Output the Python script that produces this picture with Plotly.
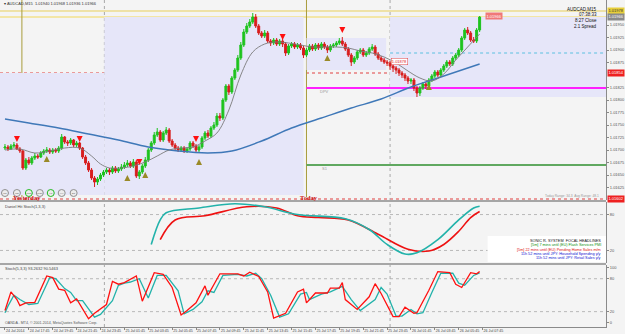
import plotly.graph_objects as go

FONT = "Liberation Sans"
PW, PH = 609, 334  # plot area px (right margin holds price labels)

# ---------------- price data (AUDCAD, M15) ----------------
first_open = 1.01704
closes = [
 1.01706, 1.01702, 1.01708, 1.01710, 1.01702, 1.01698, 1.01664, 1.01680, 1.01674, 1.01684,
 1.01688, 1.01686, 1.01694, 1.01698, 1.01700, 1.01696, 1.01700, 1.01698, 1.01704, 1.01726,
 1.01716, 1.01714, 1.01720, 1.01710, 1.01714, 1.01704, 1.01686, 1.01674, 1.01660, 1.01644,
 1.01636, 1.01642, 1.01650, 1.01656, 1.01660, 1.01656, 1.01664, 1.01658, 1.01662, 1.01666,
 1.01670, 1.01674, 1.01668, 1.01676, 1.01648, 1.01656, 1.01668, 1.01680, 1.01700, 1.01714,
 1.01730, 1.01736, 1.01720, 1.01734, 1.01740, 1.01718, 1.01710, 1.01704, 1.01700, 1.01704,
 1.01698, 1.01702, 1.01714, 1.01708, 1.01700, 1.01706, 1.01724, 1.01734, 1.01728, 1.01744,
 1.01750, 1.01768, 1.01764, 1.01800, 1.01828, 1.01816, 1.01844, 1.01860, 1.01884, 1.01910,
 1.01936, 1.01948, 1.01956, 1.01966, 1.01948, 1.01934, 1.01928, 1.01934, 1.01918, 1.01914,
 1.01920, 1.01912, 1.01918, 1.01912, 1.01894, 1.01908, 1.01912, 1.01906, 1.01910, 1.01904,
 1.01890, 1.01900, 1.01908, 1.01902, 1.01910, 1.01904, 1.01912, 1.01906, 1.01900, 1.01908,
 1.01910, 1.01914, 1.01918, 1.01912, 1.01902, 1.01890, 1.01876, 1.01884, 1.01896, 1.01900,
 1.01890, 1.01894, 1.01902, 1.01906, 1.01892, 1.01884, 1.01880, 1.01876, 1.01874, 1.01868,
 1.01864, 1.01860, 1.01854, 1.01850, 1.01844, 1.01838, 1.01840, 1.01824, 1.01814, 1.01824,
 1.01832, 1.01828, 1.01840, 1.01848, 1.01856, 1.01850, 1.01860, 1.01868, 1.01876, 1.01872,
 1.01884, 1.01890, 1.01900, 1.01924, 1.01940, 1.01934, 1.01920, 1.01918, 1.01940, 1.01966]
highs = [
 1.01712, 1.01710, 1.01712, 1.01716, 1.01714, 1.01706, 1.01700, 1.01684, 1.01686, 1.01688,
 1.01694, 1.01692, 1.01698, 1.01702, 1.01706, 1.01704, 1.01704, 1.01704, 1.01708, 1.01732,
 1.01728, 1.01720, 1.01724, 1.01722, 1.01718, 1.01716, 1.01706, 1.01690, 1.01678, 1.01664,
 1.01648, 1.01646, 1.01654, 1.01660, 1.01664, 1.01664, 1.01668, 1.01668, 1.01666, 1.01672,
 1.01676, 1.01680, 1.01678, 1.01682, 1.01680, 1.01660, 1.01672, 1.01686, 1.01704, 1.01718,
 1.01736, 1.01744, 1.01740, 1.01738, 1.01746, 1.01744, 1.01722, 1.01714, 1.01708, 1.01708,
 1.01708, 1.01706, 1.01718, 1.01718, 1.01712, 1.01710, 1.01728, 1.01738, 1.01740, 1.01748,
 1.01756, 1.01774, 1.01774, 1.01804, 1.01832, 1.01832, 1.01848, 1.01864, 1.01890, 1.01916,
 1.01942, 1.01954, 1.01962, 1.01974, 1.01972, 1.01952, 1.01938, 1.01940, 1.01938, 1.01922,
 1.01924, 1.01924, 1.01922, 1.01922, 1.01916, 1.01912, 1.01916, 1.01916, 1.01914, 1.01914,
 1.01908, 1.01904, 1.01912, 1.01912, 1.01914, 1.01914, 1.01916, 1.01916, 1.01910, 1.01912,
 1.01914, 1.01918, 1.01924, 1.01926, 1.01916, 1.01906, 1.01894, 1.01888, 1.01900, 1.01904,
 1.01904, 1.01898, 1.01906, 1.01912, 1.01910, 1.01896, 1.01888, 1.01884, 1.01880, 1.01878,
 1.01872, 1.01868, 1.01864, 1.01858, 1.01854, 1.01848, 1.01844, 1.01844, 1.01828, 1.01828,
 1.01836, 1.01836, 1.01844, 1.01852, 1.01860, 1.01860, 1.01864, 1.01872, 1.01880, 1.01880,
 1.01888, 1.01894, 1.01904, 1.01928, 1.01944, 1.01946, 1.01938, 1.01926, 1.01944, 1.01968]
lows = [
 1.01700, 1.01698, 1.01700, 1.01704, 1.01700, 1.01694, 1.01660, 1.01660, 1.01670, 1.01670,
 1.01680, 1.01682, 1.01684, 1.01690, 1.01694, 1.01692, 1.01692, 1.01694, 1.01694, 1.01700,
 1.01712, 1.01708, 1.01710, 1.01706, 1.01706, 1.01700, 1.01682, 1.01670, 1.01656, 1.01640,
 1.01626, 1.01630, 1.01638, 1.01646, 1.01652, 1.01650, 1.01652, 1.01654, 1.01654, 1.01658,
 1.01662, 1.01666, 1.01664, 1.01664, 1.01644, 1.01642, 1.01652, 1.01664, 1.01676, 1.01696,
 1.01710, 1.01726, 1.01716, 1.01716, 1.01730, 1.01714, 1.01706, 1.01700, 1.01696, 1.01696,
 1.01694, 1.01694, 1.01698, 1.01704, 1.01696, 1.01696, 1.01702, 1.01720, 1.01724, 1.01724,
 1.01740, 1.01746, 1.01758, 1.01760, 1.01796, 1.01810, 1.01812, 1.01840, 1.01856, 1.01880,
 1.01906, 1.01932, 1.01944, 1.01952, 1.01944, 1.01930, 1.01924, 1.01924, 1.01914, 1.01908,
 1.01910, 1.01908, 1.01908, 1.01906, 1.01888, 1.01890, 1.01904, 1.01902, 1.01902, 1.01900,
 1.01884, 1.01886, 1.01896, 1.01898, 1.01898, 1.01900, 1.01900, 1.01902, 1.01894, 1.01896,
 1.01904, 1.01906, 1.01910, 1.01908, 1.01898, 1.01886, 1.01868, 1.01872, 1.01880, 1.01892,
 1.01886, 1.01886, 1.01890, 1.01898, 1.01888, 1.01880, 1.01876, 1.01872, 1.01868, 1.01860,
 1.01856, 1.01852, 1.01848, 1.01844, 1.01838, 1.01832, 1.01832, 1.01818, 1.01806, 1.01808,
 1.01820, 1.01822, 1.01824, 1.01836, 1.01844, 1.01846, 1.01846, 1.01856, 1.01864, 1.01868,
 1.01868, 1.01880, 1.01886, 1.01896, 1.01920, 1.01930, 1.01916, 1.01914, 1.01914, 1.01936]
opens = [first_open] + closes[:-1]
bars = list(range(len(closes)))

# moving averages (read at sampled bars)
ma_fast_bars = [0, 5, 10, 15, 20, 25, 29, 32, 35, 39, 43, 47, 51, 55, 59, 63, 67, 71, 75, 79,
                83, 87, 91, 95, 99, 103, 107, 111, 115, 119, 123, 127, 131, 135, 139, 143, 147, 151, 155, 159]
ma_fast = [1.01700, 1.01702, 1.01694, 1.01698, 1.01704, 1.01704, 1.01688, 1.01672, 1.01664, 1.01664,
           1.01668, 1.01676, 1.01688, 1.01700, 1.01704, 1.01706, 1.01718, 1.01734, 1.01780, 1.01850,
           1.01896, 1.01912, 1.01916, 1.01914, 1.01910, 1.01906, 1.01906, 1.01906, 1.01904, 1.01898,
           1.01894, 1.01886, 1.01874, 1.01858, 1.01844, 1.01838, 1.01852, 1.01880, 1.01906, 1.01932]
ma_slow_bars = [0, 8, 18, 28, 38, 48, 58, 68, 76, 86, 96, 106, 116, 126, 136, 146, 159]
ma_slow = [1.01762, 1.01754, 1.01744, 1.01732, 1.01720, 1.01706, 1.01698, 1.01694, 1.01698,
           1.01718, 1.01744, 1.01764, 1.01784, 1.01802, 1.01826, 1.01846, 1.01872]

# fractal arrows
fr_down_bars = [4, 25, 45, 64, 93, 113]
fr_down = [1.01716, 1.01716, 1.01670, 1.01716, 1.01920, 1.01934]
fr_up_bars = [14, 41, 47, 65, 108, 142]
fr_up = [1.01688, 1.01650, 1.01656, 1.01682, 1.01890, 1.01832]

# range boxes (previous sessions) and levels
box_start = [-1.7, 33.3, 101.0, 129.0]
box_end = [33.3, 100.0, 127.7, 201.4]
box_high = [1.01854, 1.01966, 1.01924, 1.01966]
box_low = [1.01610, 1.01610, 1.01860, 1.01806]
level_high = 1.01978
level_red = 1.01854
level_cyan = 1.01894
level_pivot = 1.01824
level_s1 = 1.01670
level_bottom = 1.01602
session_bars = [5.67, 101.0]
day_bars = [33.3, 129.0]

# Daniel Hit Stoch (1,3,3)
osc_teal_bars = [49, 52, 54, 65, 77, 87, 98, 114, 122, 128, 134, 138, 145, 152, 157, 159]
osc_teal = [30, 71, 83, 91, 98, 93, 80, 73, 55, 30, 14, 16, 38, 71, 91, 94]
osc_red_bars = [52, 57, 67, 81, 91, 98, 105, 115, 125, 135, 142, 147, 152, 156, 159]
osc_red = [38, 71, 78, 93, 91, 78, 75, 71, 47, 22, 19, 30, 52, 75, 85]

# Stoch (5,3,3)
st_main_bars = [0, 2, 4, 5, 7, 10, 14, 16, 18, 20, 22, 24, 28, 30, 34, 36, 38, 40, 44, 46,
                50, 53, 56, 59, 61, 64, 67, 68, 72, 78, 80, 82, 85, 88, 90, 94, 98, 100, 101, 104,
                108, 109, 112, 113, 114, 117, 118, 122, 124, 126, 130, 132, 134, 137, 138, 142, 145, 149, 151, 153,
                156, 158, 159]
st_main = [22, 56, 42, 31, 36, 37, 85, 82, 61, 59, 36, 43, 7, 17, 33, 75, 70, 73, 85, 39,
           91, 88, 64, 14, 22, 36, 67, 50, 89, 89, 85, 92, 84, 56, 8, 17, 56, 61, 36, 54,
           54, 63, 63, 73, 42, 28, 24, 47, 71, 53, 11, 11, 28, 17, 18, 59, 93, 91, 70, 64,
           91, 89, 93.26]
st_sig_bars = [0, 1, 3, 5, 8, 11, 15, 17, 20, 22, 24, 26, 30, 32, 36, 38, 40, 42, 45, 48,
               51, 54, 58, 60, 63, 66, 68, 70, 73, 78, 81, 84, 86, 89, 92, 95, 99, 101, 102, 106,
               109, 113, 116, 119, 124, 126, 128, 131, 133, 136, 138, 140, 143, 146, 150, 152, 154, 157, 159]
st_sig = [18, 30, 50, 42, 33, 35, 82, 80, 62, 55, 40, 40, 10, 15, 40, 68, 72, 74, 80, 45,
          86, 86, 58, 16, 24, 38, 58, 55, 86, 88, 85, 90, 80, 50, 10, 16, 52, 55, 42, 52,
          56, 66, 42, 22, 42, 64, 52, 12, 12, 24, 16, 18, 55, 90, 90, 72, 68, 86, 90.55]

time_labels = ["24 Jul 2014", "24 Jul 17:45", "24 Jul 19:45", "24 Jul 21:45", "24 Jul 23:45",
               "25 Jul 01:45", "25 Jul 03:45", "25 Jul 05:45", "25 Jul 07:45", "25 Jul 09:45",
               "25 Jul 11:45", "25 Jul 13:45", "25 Jul 15:45", "25 Jul 17:45", "25 Jul 19:45",
               "25 Jul 21:45", "25 Jul 23:45", "26 Jul 01:45", "26 Jul 03:45", "26 Jul 05:45",
               "26 Jul 07:45"]
time_ticks = [8 * k for k in range(len(time_labels))]

tf_buttons = ["M1", "M5", "M15", "M30", "H1", "H4", "D1"]
headlines = [("SONIC R. SYSTEM  FOCAL HEADLINES", "#111111"),
             ("[5m] 7 mins until (EU) Flash Services PMI", "#109010"),
             ("[5m] 22 mins until (EU) Pending Home Sales m/m", "#e01010"),
             ("11h 52 mins until JPY: Household Spending y/y", "#1010d0"),
             ("11h 52 mins until JPY: Retail Sales y/y", "#1010d0")]

# ---------------- helpers (layout positions in px) ----------------
def px(x):
    return x / PW

def py(y):
    return 1 - y / PH

dom_main = [py(200), 1.0]
dom_p2 = [py(263), py(202)]
dom_p3 = [py(327), py(265)]

GREEN = "#1ec31e"
RED = "#d81e1e"

fig = go.Figure()
fig.add_trace(go.Candlestick(
    x=bars, open=opens, high=highs, low=lows, close=closes,
    increasing=dict(line=dict(color=GREEN, width=1), fillcolor=GREEN),
    decreasing=dict(line=dict(color=RED, width=1), fillcolor=RED),
    whiskerwidth=0, hoverinfo="skip", xaxis="x", yaxis="y"))
fig.add_trace(go.Scatter(x=ma_slow_bars, y=ma_slow, mode="lines",
                         line=dict(color="#3f78b8", width=1.4, shape="spline"), yaxis="y"))
fig.add_trace(go.Scatter(x=ma_fast_bars, y=ma_fast, mode="lines",
                         line=dict(color="#7a7a7a", width=0.9, shape="spline"), yaxis="y"))
fig.add_trace(go.Scatter(x=fr_down_bars, y=fr_down, mode="markers", yaxis="y",
                         marker=dict(symbol="arrow-down", size=6, color="#ff1010"), cliponaxis=False))
fig.add_trace(go.Scatter(x=fr_up_bars, y=fr_up, mode="markers", yaxis="y",
                         marker=dict(symbol="arrow-up", size=6, color="#9a8a28"), cliponaxis=False))

# timeframe buttons
btn_x = [(xp - 5) / 3 for xp in [5, 17, 29, 40, 51, 62, 74]]
btn_line = ["#909090", "#909090", "#22bb22", "#909090", "#22bb22", "#909090", "#909090"]
fig.add_trace(go.Scatter(x=btn_x, y=[1.02 - 193 * 0.00002] * len(btn_x), mode="markers+text",
                         text=tf_buttons, textfont=dict(size=2.5, color="#555", family=FONT),
                         marker=dict(size=7, color="#ececec", line=dict(color=btn_line, width=1)),
                         yaxis="y", cliponaxis=False))

# oscillator panels
fig.add_trace(go.Scatter(x=osc_red_bars, y=osc_red, mode="lines", yaxis="y2",
                         line=dict(color="#ee1111", width=1.6, shape="spline")))
fig.add_trace(go.Scatter(x=osc_teal_bars, y=osc_teal, mode="lines", yaxis="y2",
                         line=dict(color="#22b2aa", width=1.6, shape="spline")))
fig.add_trace(go.Scatter(x=st_sig_bars, y=st_sig, mode="lines", yaxis="y3",
                         line=dict(color="#22b2aa", width=1.3)))
fig.add_trace(go.Scatter(x=st_main_bars, y=st_main, mode="lines", yaxis="y3",
                         line=dict(color="#ff1010", width=1.3)))

shapes = []
for x0, x1, hi, lo in zip(box_start, box_end, box_high, box_low):
    shapes.append(dict(type="rect", xref="x", yref="y", x0=x0, x1=x1, y0=lo, y1=hi,
                       fillcolor="#e6e6f9", line=dict(width=0), layer="below"))

def hline(y, color, width=1, dash="solid", x0=None, yref="y"):
    if x0 is None:
        shapes.append(dict(type="line", xref="paper", yref=yref, x0=0, x1=1, y0=y, y1=y,
                           line=dict(color=color, width=width, dash=dash), layer="below"))
    else:
        shapes.append(dict(type="line", xref="x", yref=yref, x0=x0, x1=201.4, y0=y, y1=y,
                           line=dict(color=color, width=width, dash=dash), layer="below"))

hline(level_high, "#e8cf5a", 1)
hline(closes[-1], "#f3e6a6", 2)
hline(level_red, "#e04040", 1, "dot")
hline(level_cyan, "#5ac0e0", 1, "dot", x0=day_bars[1])
hline(level_pivot, "#ff20ff", 2, x0=session_bars[1])
hline(level_s1, "#60a860", 2, x0=session_bars[1])
hline(level_bottom, "#e04040", 1, "dot")
for lv in (80, 20):
    hline(lv, "#b8b8b8", 1, "dot", yref="y2")
    hline(lv, "#b8b8b8", 1, "dot", yref="y3")

for b in session_bars:
    shapes.append(dict(type="line", xref="x", yref="paper", x0=b, x1=b, y0=py(197), y1=1,
                       line=dict(color="#a89c3c", width=1), layer="below"))
for b in day_bars:
    shapes.append(dict(type="line", xref="x", yref="paper", x0=b, x1=b, y0=py(327), y1=1,
                       line=dict(color="#a8a8a8", width=1, dash="dot"), layer="below"))

# panel separators
for ys in (201, 264):
    shapes.append(dict(type="line", xref="paper", yref="paper", x0=0, x1=1, y0=py(ys), y1=py(ys),
                       line=dict(color="#a6a6a6", width=2), layer="above"))
# headline box
shapes.append(dict(type="rect", xref="paper", yref="paper", x0=px(490), x1=1, y0=py(262), y1=py(236),
                   fillcolor="#ffffff", line=dict(width=0), layer="above"))

ann = []
def note(text, x, y, anchor="left", size=4, color="#333333", **kw):
    d = dict(text=text, xref="paper", yref="paper", x=px(x), y=py(y), xanchor=anchor,
             yanchor="middle", showarrow=False, font=dict(family=FONT, size=size, color=color))
    d.update(kw)
    ann.append(d)

note("\u25be AUDCAD,M15  1.01940 1.01968 1.01936 1.01966", 2, 4, size=4)
note("AUDCAD,M15", 602, 9, "right", 4.5, "#111")
note("07:38:33", 602, 15, "right", 4.5, "#111")
note("8:27 Close", 602, 20.5, "right", 4.5, "#111")
note("2.1 Spread", 602, 26, "right", 4.5, "#111")
note("1.01966", 487, 16, size=4, color="#ffffff", bgcolor="#f07878", borderpad=0.5)
note("1.01878", 393, 61, size=4, color="#e02020", bgcolor="#ffffff", bordercolor="#e04040",
     borderwidth=0.5, borderpad=0.3)
note("DPV", 320, 91, size=4, color="#9a9a9a")
note("S1", 322, 168, size=4, color="#9a9a9a")
note("<b>Yesterday</b>", 11, 197, size=6.5, color="#cc1010", font_family="Liberation Serif")
note("<b>Today</b>", 299, 197, size=6.5, color="#cc1010", font_family="Liberation Serif")
note("Today Range: 34.3  Avg Range: 48.1", 604, 196.5, "right", 3.3, "#9a9a9a")
note("Daniel Hit Stoch(1,3,3)", 3, 206, size=4, color="#444")
note("Stoch(5,3,3) 93.2632 90.5463", 3, 268.5, size=4, color="#444")
note("OANDA - MT4, \u00a9 2001-2014, MetaQuotes Software Corp.", 3, 323, size=3.6, color="#555")
for k, (t, c) in enumerate(headlines):
    note(t, 606, 241 + 4.3 * k, "right", 3.8, c)

# right-axis price boxes
def axis_box(price, bg, fg="#ffffff"):
    ann.append(dict(text=f"{price:.5f}", xref="paper", yref="y", x=1, y=price, xanchor="left",
                    yanchor="middle", xshift=1, showarrow=False, bgcolor=bg, borderpad=0.4,
                    font=dict(family=FONT, size=4, color=fg)))

axis_box(level_high, "#e8cf3a", "#333")
axis_box(closes[-1], "#8a8a8a")
axis_box(level_red, "#ee2020")
axis_box(level_bottom, "#ee2020")

# price ticks every 0.00025 (the one hidden under the red level box is left out)
main_ticks = [round(1.01625 + 0.00025 * k, 5) for k in range(14)]
main_ticks = [t for t in main_ticks if abs(t - level_red) > 0.0001]
yax_common = dict(side="right", anchor="x", showgrid=False, zeroline=False, ticks="outside",
                  ticklen=2, tickcolor="#888", showline=True, linecolor="#8a8a8a", linewidth=1,
                  tickfont=dict(family=FONT, size=4, color="#555"), fixedrange=True)

fig.update_layout(
    width=625, height=334, margin=dict(l=0, r=16, t=0, b=0),
    paper_bgcolor="#f4f4f4", plot_bgcolor="#f4f4f4", showlegend=False,
    boxgap=0.35, boxgroupgap=0,
    font=dict(family=FONT, size=4, color="#333"),
    xaxis=dict(range=[-5 / 3, 604 / 3], anchor="y3", showgrid=False, zeroline=False,
               tickvals=time_ticks, ticktext=time_labels, ticks="outside", ticklen=2,
               tickcolor="#888", ticklabelposition="outside right", tickangle=0,
               tickfont=dict(family=FONT, size=3.6, color="#444"),
               showline=True, linecolor="#8a8a8a", rangeslider=dict(visible=False)),
    yaxis=dict(domain=dom_main, range=[1.016, 1.020], tickvals=main_ticks,
               tickformat=".5f", **yax_common),
    yaxis2=dict(domain=dom_p2, range=[-1, 101], tickvals=[20, 80], **yax_common),
    yaxis3=dict(domain=dom_p3, range=[-8, 105], tickvals=[0, 20, 80, 100], **yax_common),
    shapes=shapes, annotations=ann,
)

fig.write_html("out.html")
